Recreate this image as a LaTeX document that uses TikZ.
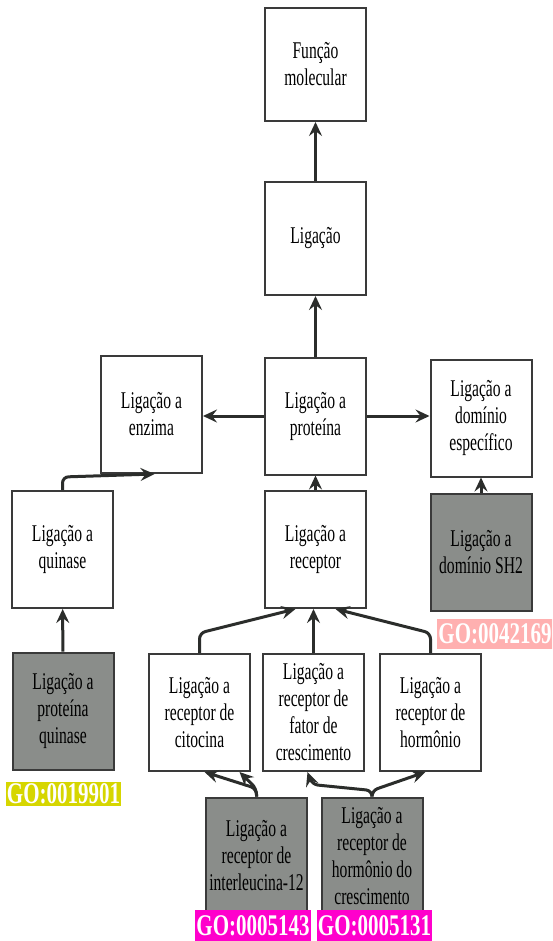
\documentclass[tikz,border=0pt]{standalone}
\usepackage{fontspec}
\setmainfont[FakeStretch=0.65]{Liberation Serif}
\newfontfamily\gofont[FakeStretch=0.7]{Liberation Serif}
\usetikzlibrary{arrows.meta}
\definecolor{borda}{HTML}{3A3A3A}
\definecolor{cinza}{HTML}{8A8D8A}
\definecolor{seta}{HTML}{2B2D2B}
\definecolor{goamarelo}{HTML}{D6D600}
\definecolor{gorosa}{HTML}{FFB0B0}
\definecolor{gomagenta}{HTML}{FF00CC}
\tikzset{
	caixa/.style={draw=borda, line width=2pt, fill=white, minimum width=101pt, minimum height=117pt,
		inner sep=1pt, align=center, text=black, font=\fontsize{24}{27}\selectfont},
	caixacinza/.style={caixa, fill=cinza},
	rotulo/.style={text=white, inner sep=1pt, minimum height=30pt, font=\gofont\fontsize{30}{32}\selectfont\bfseries},
	ligacao/.style={draw=seta, line width=3pt, -{Stealth[length=14pt,width=13pt,inset=5pt]}, rounded corners=6pt}
}
\begin{document}
\begin{tikzpicture}[x=1pt, y=-1pt]
	\clip (0,0) rectangle (552,941);
	\fill[white] (0,0) rectangle (552,941);
	% caixas
	\node[caixa, minimum height=113pt] (funcao) at (315.5,64.5) {Função\\molecular};
	\node[caixa, minimum height=113pt] (ligacao) at (315.5,238.5) {Ligação};
	\node[caixa] (proteina) at (315.5,416) {Ligação a\\proteína};
	\node[caixa] (enzima) at (151.5,414.5) {Ligação a\\enzima};
	\node[caixa] (dominio) at (481,418) {Ligação a\\domínio\\específico};
	\node[caixa] (quinase) at (62.5,549.5) {Ligação a\\quinase};
	\node[caixa] (receptor) at (315.5,549.5) {Ligação a\\receptor};
	\node[caixacinza] (sh2) at (481,552) {Ligação a\\domínio SH2};
	\node[caixacinza] (pquinase) at (63,711) {Ligação a\\proteína\\quinase};
	\node[caixa] (citocina) at (199.5,712.5) {Ligação a\\receptor de\\citocina};
	\node[caixa] (fator) at (313.5,712.5) {Ligação a\\receptor de\\fator de\\crescimento};
	\node[caixa] (hormonio) at (430.5,712.5) {Ligação a\\receptor de\\hormônio};
	\node[caixacinza] (interleucina) at (256.5,856) {Ligação a\\receptor de\\interleucina-12};
	\node[caixacinza] (gh) at (372,856) {Ligação a\\receptor de\\hormônio do\\crescimento};
	% rotulos GO
	\node[rotulo, fill=gorosa, minimum width=114pt] (go42169) at (495,634) {GO:0042169};
	\node[rotulo, fill=goamarelo, minimum width=111pt, minimum height=24pt] (go19901) at (63.5,794) {GO:0019901};
	\node[rotulo, fill=gomagenta, minimum width=112pt, minimum height=31pt] (go5143) at (253,925.5) {GO:0005143};
	\node[rotulo, fill=gomagenta, minimum width=113pt, minimum height=31pt] (go5131) at (374.5,925.5) {GO:0005131};
	% setas
	\draw[ligacao] (ligacao) -- (funcao);
	\draw[ligacao] (proteina) -- (ligacao);
	\draw[ligacao] (proteina.west) -- (proteina.west -| enzima.east);
	\draw[ligacao] (proteina.east) -- (proteina.east -| dominio.west);
	\draw[ligacao] (receptor) -- (proteina);
	\draw[ligacao] (sh2) -- (dominio);
	\draw[ligacao] (pquinase) -- (quinase);
	\draw[ligacao] (quinase.north) -- ++(0,-13) -- ([xshift=3pt]enzima.south);
	\draw[ligacao] (citocina.north) -- ++(0,-20) -- ([xshift=-20pt]receptor.south);
	\draw[ligacao] (fator.north) -- (fator.north |- receptor.south);
	\draw[ligacao] (hormonio.north) -- ++(0,-20) -- ([xshift=20pt]receptor.south);
	\draw[ligacao] (interleucina.north) -- ++(0,-8) -- ([xshift=40pt]citocina.south);
	\draw[ligacao] (interleucina.north) -- ++(0,-8) -- ([xshift=5pt]citocina.south);
	\draw[ligacao] (gh.north) -- ++(0,-6) -- ++(-60,-6) -- ([xshift=-6pt]fator.south);
	\draw[ligacao] (gh.north) -- ++(0,-6) -- ([xshift=-5pt]hormonio.south);
\end{tikzpicture}
\end{document}
